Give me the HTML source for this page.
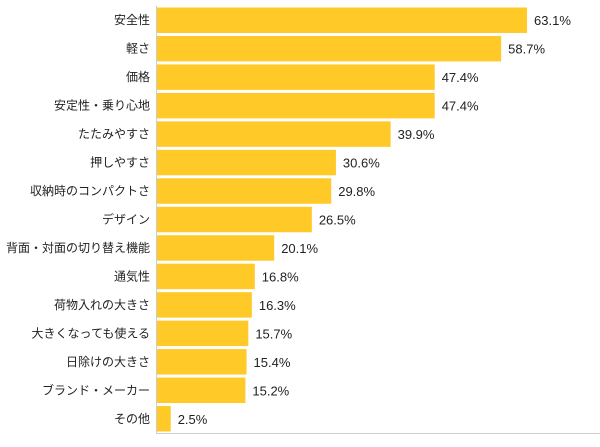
<!DOCTYPE html>
<html><head><meta charset="utf-8"><style>
body{margin:0;background:#fff;}
svg text{font-family:"Liberation Sans","Noto Sans CJK JP",sans-serif;font-size:12px;fill:#222;}
</style></head><body>
<svg id="chart" width="600" height="442"></svg>
<script>
const categories=["安全性","軽さ","価格","安定性・乗り心地","たたみやすさ","押しやすさ","収納時のコンパクトさ","デザイン","背面・対面の切り替え機能","通気性","荷物入れの大きさ","大きくなっても使える","日除けの大きさ","ブランド・メーカー","その他"];
const values=[63.1,58.7,47.4,47.4,39.9,30.6,29.8,26.5,20.1,16.8,16.3,15.7,15.4,15.2,2.5];
const valueLabels=["63.1%","58.7%","47.4%","47.4%","39.9%","30.6%","29.8%","26.5%","20.1%","16.8%","16.3%","15.7%","15.4%","15.2%","2.5%"];
const svg=document.getElementById('chart');
const NS='http://www.w3.org/2000/svg';
const x0=157,top0=6,bottom=433,pxPer=5.88;
const band=(bottom-top0)/categories.length;
const xs=v=>x0+v*pxPer;
function mk(t,a){const e=document.createElementNS(NS,t);for(const k in a)e.setAttribute(k,a[k]);svg.appendChild(e);return e;}
categories.forEach((c,i)=>{
  const y=top0+i*band;
  const r=mk('rect',{x:x0,y:y+1.5,width:Math.max(0,xs(values[i])-x0-1),height:band-3,fill:'#FFC928'});
  
  
  const t=mk('text',{x:x0-7,y:y+band/2+4,'text-anchor':'end'});t.textContent=c;
  
  
  const v=mk('text',{x:xs(values[i])+6,y:y+band/2+5,'font-size':'13'});v.textContent=valueLabels[i];
  v.style.fontSize='13px';
  
  
});
const ax=mk('line',{x1:x0-0.5,y1:top0,x2:x0-0.5,y2:bottom+0.5,stroke:'#ccc'});


const bx=mk('line',{x1:x0-0.5,y1:bottom+0.5,x2:600,y2:bottom+0.5,stroke:'#ccc'});


</script>
</body></html>
